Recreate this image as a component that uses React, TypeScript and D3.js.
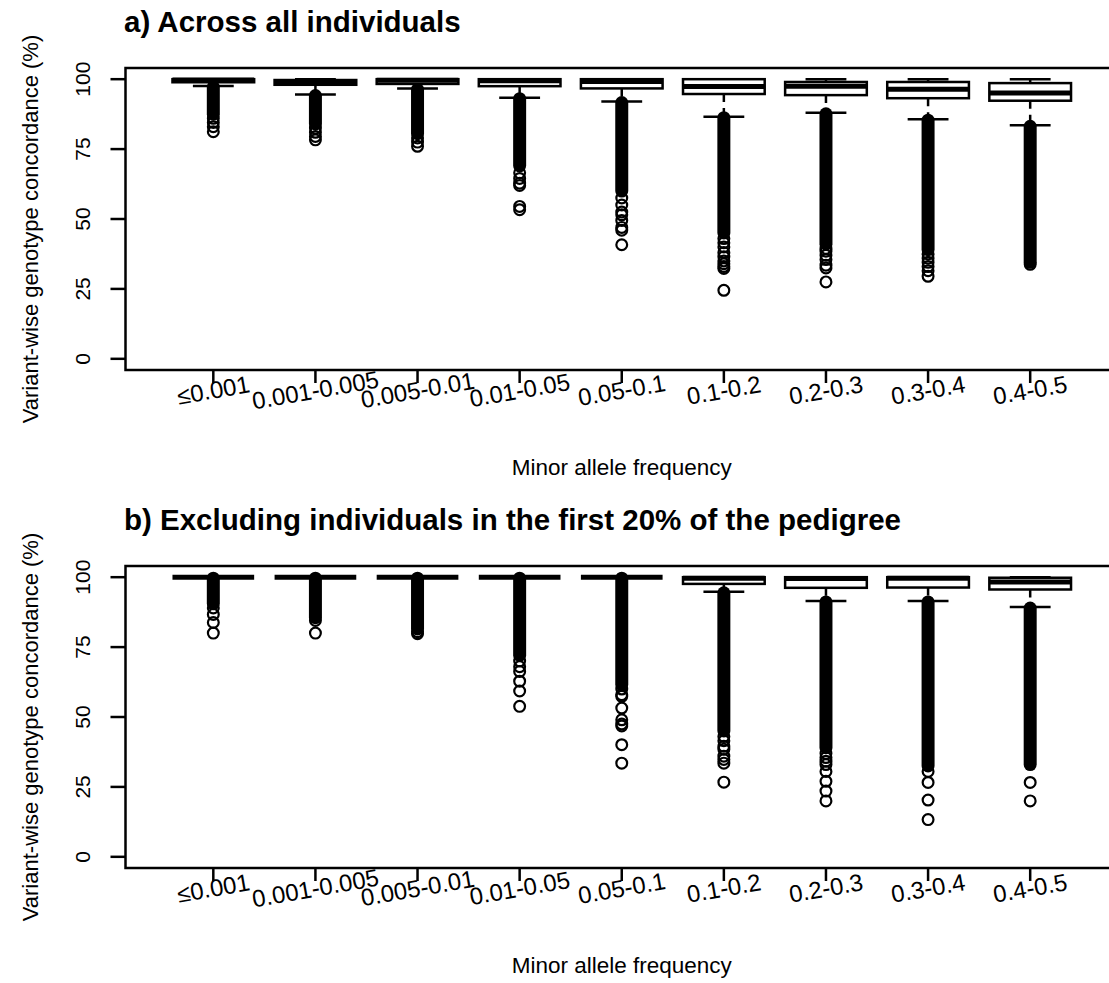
import React, { useEffect } from 'react';
import * as d3 from 'd3';

// minor allele frequency bins
const categories = ['≤0.001', '0.001-0.005', '0.005-0.01', '0.01-0.05', '0.05-0.1', '0.1-0.2', '0.2-0.3', '0.3-0.4', '0.4-0.5'];
const yTicks = [0, 25, 50, 75, 100];

// panel a) across all individuals
const q3A = [100, 99.7, 100, 100, 100, 100, 99, 99, 98.6];
const medA = [99.7, 99, 99.6, 99.4, 99.2, 97.4, 97.5, 96.4, 95.1];
const q1A = [98.9, 98, 98.3, 97.5, 96.7, 94.7, 94.3, 93.2, 92.3];
const upperA = [100, 100, 100, 100, 100, 100, 100, 100, 100];
const lowerA = [97.6, 94.5, 96.7, 93.4, 92, 86.6, 88, 85.7, 83.5];
// lowest value of the solid run of outliers below the whisker
const denseA = [87.5, 84, 80.5, 69, 60, 45, 41, 39, 34.5];
const sparseA = [
  [86, 84.5, 83, 81.2],
  [82.5, 81, 79.5, 78.3],
  [79, 77.5, 76],
  [66.5, 64.5, 62.8, 62, 54.5, 53.3],
  [57.5, 55, 52.5, 51.5, 49.5, 47, 46, 40.8],
  [43, 41.5, 40, 38, 36.5, 35, 34, 33, 32.3, 24.5],
  [39.5, 38.5, 37, 35.5, 33.5, 32.5, 27.5],
  [37.5, 36, 34.5, 33, 31.5, 29.5],
  [33.8],
];

// panel b) excluding first 20% of the pedigree
const q3B = [100, 100, 100, 100, 100, 100, 100, 100, 99.8];
const medB = [100, 100, 100, 100, 100, 99.6, 99.5, 99.6, 98.3];
const q1B = [100, 100, 100, 100, 100, 97.6, 96.2, 96.3, 95.6];
const upperB = [100, 100, 100, 100, 100, 100, 100, 100, 100];
const lowerB = [100, 100, 100, 100, 100, 94.8, 91.5, 91.5, 89.3];
const denseB = [90.5, 85.5, 81.5, 72, 61.5, 45, 39, 32.5, 33];
const sparseB = [
  [89, 86.7, 83.8, 80],
  [84.5, 80],
  [80.5, 79.8],
  [70, 68, 66.3, 62.8, 59.3, 53.8],
  [60, 58, 57.4, 53.2, 49, 47.5, 46.8, 40.1, 33.5],
  [43, 41.5, 39.5, 38.5, 36, 34.8, 33.5, 26.7],
  [37, 35.5, 34.2, 33, 30.5, 27, 23.5, 20],
  [30.5, 26.6, 20.3, 13.3],
  [26.6, 20],
];

const panels = [
  { title: 'a) Across all individuals', top: 68, q1: q1A, med: medA, q3: q3A, upper: upperA, lower: lowerA, dense: denseA, sparse: sparseA },
  { title: 'b) Excluding individuals in the first 20% of the pedigree', top: 566, q1: q1B, med: medB, q3: q3B, upper: upperB, lower: lowerB, dense: denseB, sparse: sparseB },
];

const font = '"Liberation Sans", Arial, Helvetica, sans-serif';
const left = 125.5;
const right = 1118;
const plotH = 302;

const x = d3.scaleLinear().domain([0.14, 9.86]).range([left, right]);
const boxW = (x(1.4) - x(1)) * 2;

const Panel = ({ p }) => {
  const bottom = p.top + plotH;
  const y = d3.scaleLinear().domain([-4, 104]).range([bottom, p.top]);
  const midY = (p.top + bottom) / 2;

  return (
    <g>
      <text x={124} y={p.top - 36} fontFamily={font} fontWeight="bold" fontSize={29.5}>{p.title}</text>
      <rect x={left} y={p.top} width={right - left} height={plotH} fill="none" stroke="#000" strokeWidth={2.5} />

      {yTicks.map((t) => (
        <g key={t}>
          <line x1={left - 15} x2={left} y1={y(t)} y2={y(t)} stroke="#000" strokeWidth={2.5} />
          <text transform={`translate(90,${y(t)}) rotate(-90)`} textAnchor="middle" fontFamily={font} fontSize={21}>{t}</text>
        </g>
      ))}
      <text transform={`translate(38,${midY + 10}) rotate(-90)`} textAnchor="middle" fontFamily={font} fontSize={22}>
        Variant-wise genotype concordance (%)
      </text>

      {categories.map((c, i) => {
        const cx = x(i + 1);
        return (
          <g key={c}>
            <line x1={cx} x2={cx} y1={bottom} y2={bottom + 13} stroke="#000" strokeWidth={2.5} />
            <text transform={`translate(${cx},${bottom + 20}) rotate(-10)`} textAnchor="middle" dominantBaseline="central" fontFamily={font} fontSize={24}>{c}</text>
          </g>
        );
      })}
      <text x={(left + right) / 2} y={bottom + 105} textAnchor="middle" fontFamily={font} fontSize={22.5}>Minor allele frequency</text>

      {categories.map((c, i) => {
        const cx = x(i + 1);
        return (
          <g key={c}>
            {/* dense run of outliers */}
            <line x1={cx} x2={cx} y1={y(p.lower[i]) + 1} y2={y(p.dense[i])} stroke="#000" strokeWidth={13} strokeLinecap="round" />
            {p.sparse[i].map((v, k) => (
              <circle key={k} cx={cx} cy={y(v)} r={5.4} fill="none" stroke="#000" strokeWidth={2.2} />
            ))}
            {/* whiskers */}
            <line x1={cx} x2={cx} y1={y(p.q1[i])} y2={y(p.lower[i])} stroke="#000" strokeWidth={2.5} strokeDasharray="8 6" />
            <line x1={cx} x2={cx} y1={y(p.q3[i])} y2={y(p.upper[i])} stroke="#000" strokeWidth={2.5} strokeDasharray="8 6" />
            <line x1={cx - boxW / 4} x2={cx + boxW / 4} y1={y(p.lower[i])} y2={y(p.lower[i])} stroke="#000" strokeWidth={2.5} />
            <line x1={cx - boxW / 4} x2={cx + boxW / 4} y1={y(p.upper[i])} y2={y(p.upper[i])} stroke="#000" strokeWidth={2.5} />
            {/* box */}
            <rect x={cx - boxW / 2} y={y(p.q3[i])} width={boxW} height={Math.max(0, y(p.q1[i]) - y(p.q3[i]))} fill="#fff" stroke="#000" strokeWidth={2.5} />
            <line x1={cx - boxW / 2} x2={cx + boxW / 2} y1={y(p.med[i])} y2={y(p.med[i])} stroke="#000" strokeWidth={5} />
          </g>
        );
      })}
    </g>
  );
};

export default function App() {
  useEffect(() => {
    document.body.style.margin = '0';
  }, []);
  return (
    <svg width={1109} height={983} style={{ display: 'block', background: '#fff' }}>
      <rect width={1109} height={983} fill="#fff" />
      {panels.map((p) => (
        <Panel key={p.title} p={p} />
      ))}
    </svg>
  );
}
